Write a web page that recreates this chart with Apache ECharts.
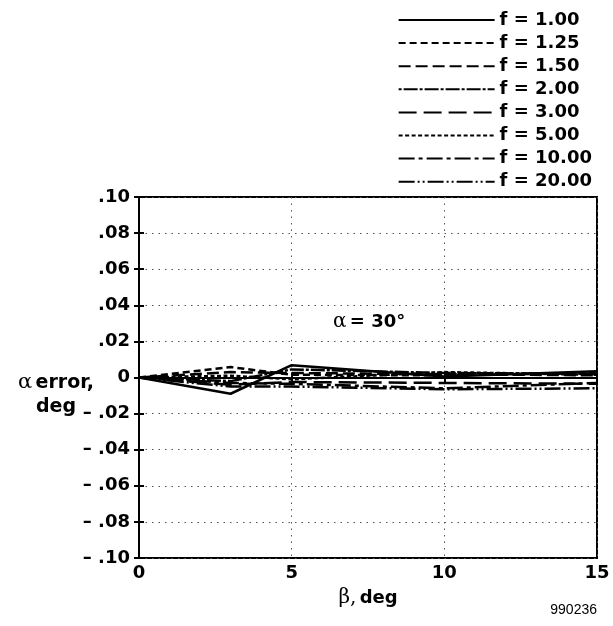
<!DOCTYPE html>
<html><head><meta charset="utf-8">
<script src="https://cdn.jsdelivr.net/npm/echarts@6/dist/echarts.min.js"></script>
<style>html,body{margin:0;padding:0;background:#fff}#c{width:613px;height:626px}</style>
</head><body><div id="c"></div>
<script>
var beta = [0, 3, 5, 10, 15];
var fLabels = ['f = 1.00','f = 1.25','f = 1.50','f = 2.00','f = 3.00','f = 5.00','f = 10.00','f = 20.00'];
var f100 = [0, -0.009, 0.0068, 0.0005, 0.0035];
var f125 = [0, 0.0058, 0.0015, 0.0012, 0.0025];
var f150 = [0, 0.003, 0.0025, 0.0018, 0.0012];
var f200 = [0, -0.002, 0.0045, 0.0025, 0.002];
var f300 = [0, -0.004, -0.0025, -0.003, -0.0035];
var f500 = [0, 0.001, -0.001, 0.003, 0.0015];
var f1000 = [0, -0.003, -0.0035, -0.006, -0.003];
var f2000 = [0, -0.005, -0.005, -0.0065, -0.006];
var yTicks = [-0.10,-0.08,-0.06,-0.04,-0.02,0,0.02,0.04,0.06,0.08,0.10];
var xTicks = [0,5,10,15];

var allVals = [f100,f125,f150,f200,f300,f500,f1000,f2000];
var dashes = ['solid',[7,4],[12,5],[3,2,14,2],[18,7],[4,2.5],[16,4,4,4],[16,3,2,3,2,3]];
var FONT = 'DejaVu Sans';
function yFmt(v){
  if (Math.abs(v) < 1e-9) return '0';
  var s = Math.abs(v).toFixed(2).replace(/^0/, '');
  return v < 0 ? '\u2013 ' + s : s;
}
var series = allVals.map(function(vals, i){
  return {
    name: fLabels[i], type: 'line', symbol: 'none', showSymbol: false, animation: false,
    data: beta.map(function(b, j){ return [b, vals[j]]; }),
    lineStyle: {color: '#000', width: 2.5, type: dashes[i]},
    itemStyle: {color: '#000', opacity: 0}
  };
});
var chart = echarts.init(document.getElementById('c'));
chart.setOption({
  backgroundColor: '#fff',
  animation: false,
  grid: {left: 139, right: 16, top: 197, bottom: 68, show: true, borderColor: '#000', borderWidth: 2},
  legend: {
    orient: 'vertical', right: 16, top: 6, itemWidth: 96, itemHeight: 18, itemGap: 5.1,
    data: fLabels, selectedMode: false,
    itemStyle: {opacity: 0},
    textStyle: {fontFamily: FONT, fontWeight: 'bold', fontSize: 18, color: '#000', lineHeight: 18, padding: [0,0,0,0]}
  },
  xAxis: [{
    type: 'value', min: 0, max: 15, interval: 5,
    axisLine: {show: true, lineStyle: {color: '#000', width: 2}},
    axisTick: {show: true, inside: true, length: 5, lineStyle: {color: '#000', width: 2}},
    axisLabel: {fontFamily: FONT, fontWeight: 'bold', fontSize: 18, color: '#000', margin: 6,
      formatter: function(v){ return xTicks.indexOf(v) >= 0 ? String(v) : ''; }},
    splitLine: {show: true, lineStyle: {color: '#555', width: 1, type: [1.5, 5]}},
    name: '{g|\u03b2,} {b|deg}', nameLocation: 'middle', nameGap: 30,
    nameTextStyle: {rich: {g: {fontFamily: 'DejaVu Serif', fontSize: 20, color: '#000'}, b: {fontFamily: FONT, fontWeight: 'bold', fontSize: 18, color: '#000'}}}
  }, {
    type: 'value', min: 0, max: 15, interval: 5, position: 'top',
    axisLine: {show: true, lineStyle: {color: '#000', width: 2}},
    axisTick: {show: true, inside: true, length: 5, lineStyle: {color: '#000', width: 2}},
    axisLabel: {show: false}, splitLine: {show: false}
  }],
  yAxis: [{
    type: 'value', min: -0.1, max: 0.1, interval: 0.02,
    axisLine: {show: true, lineStyle: {color: '#000', width: 2}},
    axisTick: {show: true, inside: true, length: 5, lineStyle: {color: '#000', width: 2}},
    axisLabel: {fontFamily: FONT, fontWeight: 'bold', fontSize: 18, color: '#000', margin: 9, formatter: yFmt},
    splitLine: {show: true, lineStyle: {color: '#555', width: 1, type: [1.5, 5]}}
  }, {
    type: 'value', min: -0.1, max: 0.1, interval: 0.02, position: 'right',
    axisLine: {show: true, lineStyle: {color: '#000', width: 2}},
    axisTick: {show: true, inside: true, length: 5, lineStyle: {color: '#000', width: 2}},
    axisLabel: {show: false}, splitLine: {show: false}
  }],
  graphic: [
    {type: 'text', x: 56, y: 371, style: {
      text: '{g|\u03b1} {b|error,}\n{b|deg}', align: 'center', verticalAlign: 'top',
      rich: {g: {fontFamily: 'DejaVu Serif', fontSize: 21, color: '#000', lineHeight: 24},
             b: {fontFamily: FONT, fontWeight: 'bold', fontSize: 19, color: '#000', lineHeight: 24}}}},
    {type: 'text', left: 333, top: 312, style: {
      text: '{g|\u03b1} {b|= 30\u00b0}',
      rich: {g: {fontFamily: 'DejaVu Serif', fontSize: 20, color: '#000'},
             b: {fontFamily: FONT, fontWeight: 'bold', fontSize: 18, color: '#000'}}}},
    {type: 'text', right: 16, top: 603, style: {text: '990236', fontFamily: 'Liberation Sans', fontSize: 14, fill: '#000'}}
  ],
  series: series
});
</script></body></html>
